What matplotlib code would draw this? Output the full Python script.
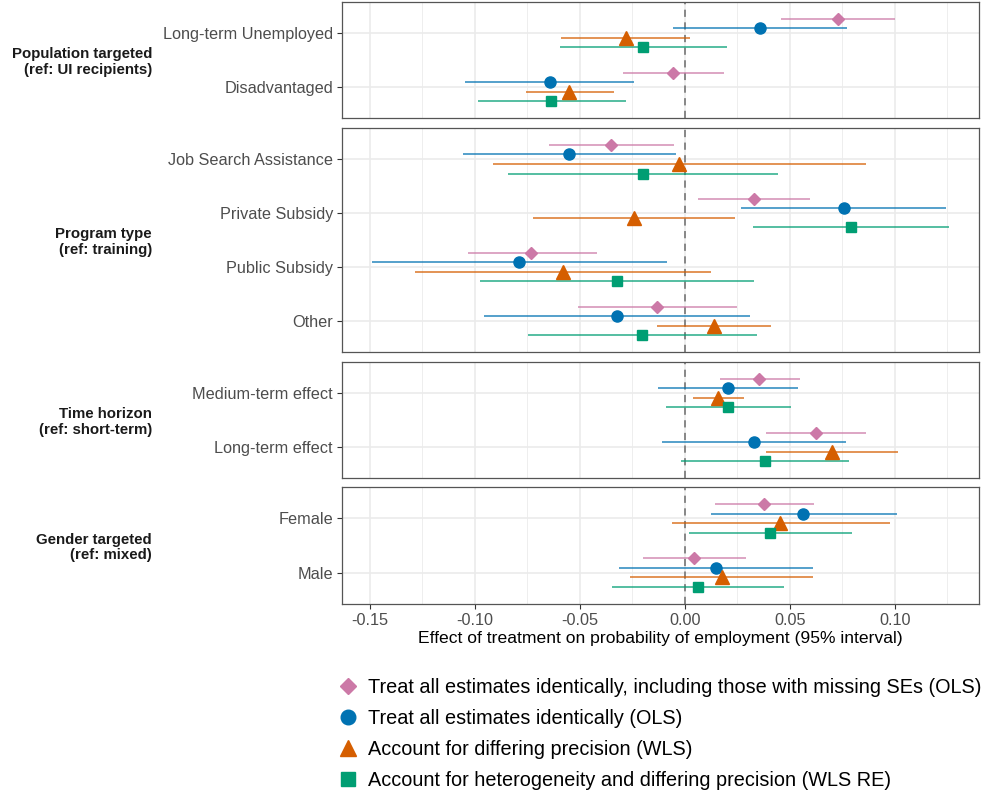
import matplotlib
matplotlib.use("Agg")
import matplotlib.pyplot as plt
from matplotlib.lines import Line2D
import numpy as np

plt.rcParams['font.family'] = ['Liberation Sans', 'DejaVu Sans']

# ---------------- data ----------------
groups = ["Population targeted\n(ref: UI recipients)",
          "Program type\n(ref: training)",
          "Time horizon\n(ref: short-term)",
          "Gender targeted\n(ref: mixed)"]

categories = [
    ["Long-term Unemployed", "Disadvantaged"],
    ["Job Search Assistance", "Private Subsidy", "Public Subsidy", "Other"],
    ["Medium-term effect", "Long-term effect"],
    ["Female", "Male"],
]

series_names = [
    "Treat all estimates identically, including those with missing SEs (OLS)",
    "Treat all estimates identically (OLS)",
    "Account for differing precision (WLS)",
    "Account for heterogeneity and differing precision (WLS RE)",
]

# estimates per group: rows = categories, cols = series (OLS all, OLS, WLS, WLS RE)
est_pop = [[0.0727, 0.0355, -0.0283, -0.0199],
           [-0.0055, -0.0644, -0.0550, -0.0636]]
lo_pop = [[0.0458, -0.0055, -0.0589, -0.0595],
          [-0.0296, -0.1047, -0.0759, -0.0987]]
hi_pop = [[0.1000, 0.0770, 0.0023, 0.0201],
          [0.0187, -0.0242, -0.0339, -0.0283]]

est_prog = [[-0.0353, -0.0554, -0.0027, -0.0201],
            [0.0330, 0.0757, -0.0242, 0.0790],
            [-0.0731, -0.0788, -0.0581, -0.0324],
            [-0.0131, -0.0322, 0.0137, -0.0203]]
lo_prog = [[-0.0649, -0.1059, -0.0913, -0.0844],
           [0.0064, 0.0267, -0.0722, 0.0322],
           [-0.1034, -0.1492, -0.1285, -0.0975],
           [-0.0507, -0.0956, -0.0131, -0.0749]]
hi_prog = [[-0.0053, -0.0045, 0.0864, 0.0445],
           [0.0593, 0.1244, 0.0240, 0.1258],
           [-0.0421, -0.0086, 0.0125, 0.0328],
           [0.0250, 0.0308, 0.0410, 0.0345]]

est_time = [[0.0353, 0.0207, 0.0158, 0.0205],
            [0.0624, 0.0330, 0.0702, 0.0380]]
lo_time = [[0.0166, -0.0127, 0.0039, -0.0092],
           [0.0386, -0.0107, 0.0386, -0.0021]]
hi_time = [[0.0546, 0.0540, 0.0283, 0.0503],
           [0.0864, 0.0768, 0.1014, 0.0782]]

est_gender = [[0.0378, 0.0564, 0.0454, 0.0406],
              [0.0043, 0.0148, 0.0176, 0.0062]]
lo_gender = [[0.0142, 0.0123, -0.0062, 0.0021],
             [-0.0201, -0.0316, -0.0263, -0.0347]]
hi_gender = [[0.0612, 0.1008, 0.0975, 0.0794],
             [0.0289, 0.0610, 0.0610, 0.0472]]

estimates = [est_pop, est_prog, est_time, est_gender]
lows = [lo_pop, lo_prog, lo_time, lo_gender]
highs = [hi_pop, hi_prog, hi_time, hi_gender]

x_ticks = [-0.15, -0.10, -0.05, 0.00, 0.05, 0.10]
x_ticklabels = ["-0.15", "-0.10", "-0.05", "0.00", "0.05", "0.10"]

# ---------------- styles ----------------
colors = ["#CC79A7", "#0072B2", "#D55E00", "#009E73"]
markers = ["D", "o", "^", "s"]
msizes = [6.0, 8.0, 9.5, 7.5]
offsets = [-0.265, -0.088, 0.088, 0.265]
xlim = (-0.1633, 0.1400)
margin = 0.58

W, H = 987, 793
fig = plt.figure(figsize=(W / 100, H / 100), dpi=100)

panel_px = [(2, 118), (128, 352), (362, 478), (487, 604)]
left_px, right_px = 342, 979

grid_c = "#EBEBEB"
text_grey = "#4D4D4D"

axes = []
for gi, (top, bot) in enumerate(panel_px):
    ax = fig.add_axes([left_px / W, 1 - bot / H, (right_px - left_px) / W, (bot - top) / H])
    axes.append(ax)
    cats = categories[gi]
    n = len(cats)
    ax.set_xlim(*xlim)
    ax.set_ylim(n + margin, 1 - margin)
    # grids
    for xv in np.arange(-0.175, 0.15, 0.05):
        ax.axvline(xv, color=grid_c, lw=0.6, zorder=0)
    for xv in x_ticks:
        ax.axvline(xv, color=grid_c, lw=1.2, zorder=0)
    for yi in range(1, n + 1):
        ax.axhline(yi, color=grid_c, lw=1.2, zorder=0)
    ax.axvline(0, color="#7F7F7F", lw=1.3, ls=(0, (4, 3)), zorder=1)

    for ci in range(n):
        for si in range(4):
            y = ci + 1 + offsets[si]
            ax.plot([lows[gi][ci][si], highs[gi][ci][si]], [y, y],
                    color=colors[si], lw=1.1, alpha=0.85, zorder=2, solid_capstyle="butt")
            ax.plot(estimates[gi][ci][si], y, marker=markers[si], color=colors[si],
                    ms=msizes[si], mec=colors[si], ls="none", zorder=3)

    ax.set_yticks(range(1, n + 1))
    ax.set_yticklabels(cats, fontsize=11.7, color=text_grey)
    ax.set_xticks(x_ticks)
    ax.tick_params(axis="both", length=3.5, width=0.8, color="#333333", pad=3)
    if gi < 3:
        ax.tick_params(axis="x", bottom=False, labelbottom=False)
    else:
        ax.set_xticklabels(x_ticklabels, fontsize=11.7, color=text_grey)
        ax.set_xlabel("Effect of treatment on probability of employment (95% interval)",
                      fontsize=12.6, color="black", labelpad=2)
    for s in ax.spines.values():
        s.set_color("#555555")
        s.set_linewidth(0.9)

    yc = 1 - ((top + bot) / 2 + 2) / H
    fig.text(152 / W, yc, groups[gi], ha="right", va="center", fontsize=10.8,
             fontweight="bold", color="#1A1A1A", linespacing=1.1)

handles = [Line2D([0], [0], marker=markers[i], color=colors[i], ls="none",
                  ms=msizes[i] + 2.5, label=series_names[i]) for i in range(4)]
fig.legend(handles=handles, loc="upper left", bbox_to_anchor=(330 / W, 1 - 670 / H),
           frameon=False, fontsize=14.3, handletextpad=0.5, labelspacing=0.6,
           borderaxespad=0, handlelength=1.0)

fig.savefig("out.png", dpi=100)
